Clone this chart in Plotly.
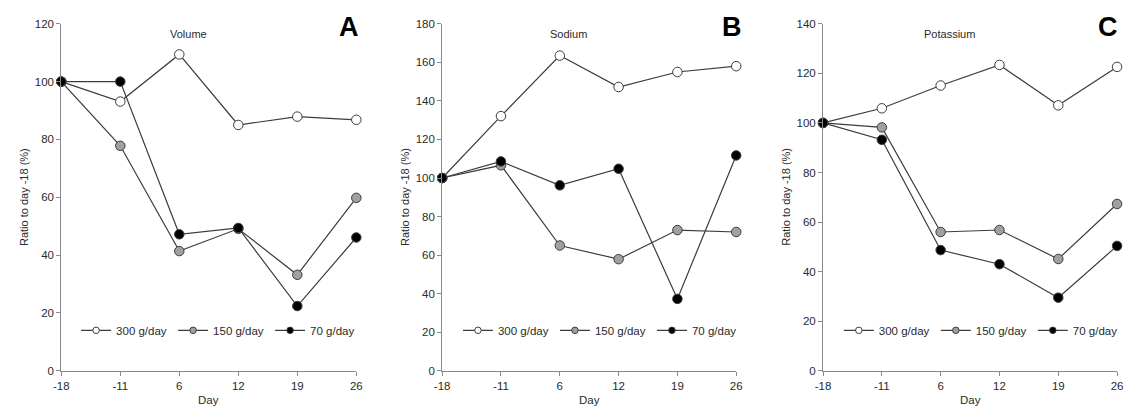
import plotly.graph_objects as go

days = ["-18", "-11", "6", "12", "19", "26"]
series_names = ["300 g/day", "150 g/day", "70 g/day"]

volume_300 = [100, 93.1, 109.4, 85.0, 87.9, 86.8]
volume_150 = [100, 77.8, 41.4, 49.1, 33.2, 59.8]
volume_70 = [100, 100, 47.2, 49.4, 22.4, 46.1]

sodium_300 = [100, 132.1, 163.5, 147.2, 155.0, 158.0]
sodium_150 = [100, 106.6, 65.0, 57.9, 73.0, 72.0]
sodium_70 = [100, 108.6, 96.2, 104.8, 37.3, 111.7]

potassium_300 = [100, 105.9, 115.1, 123.4, 107.1, 122.6]
potassium_150 = [100, 98.2, 56.0, 56.8, 45.1, 67.3]
potassium_70 = [100, 93.2, 48.7, 43.0, 29.5, 50.4]

panel_titles = ["Volume", "Sodium", "Potassium"]
panel_letters = ["A", "B", "C"]
y_max = [120, 180, 140]

panels = [
    [volume_300, volume_150, volume_70],
    [sodium_300, sodium_150, sodium_70],
    [potassium_300, potassium_150, potassium_70],
]

W, H = 1130, 414
fills = ["#ffffff", "#a0a0a0", "#000000"]
line_col = "#3c3c3c"
axis_col = "#8a8a8a"
text_col = "#2a2a2a"
font_fam = "Liberation Sans, Arial, sans-serif"

x_px = [(54, 353), (440, 738), (826, 1124)]
y_top, y_bot = 18.3, 375.7
ydom = [(H - y_bot) / H, (H - y_top) / H]
letter_x = [346, 734, 1115]
legend_x = [74, 461, 847]

fig = go.Figure()
xidx = list(range(len(days)))

for p in range(3):
    sfx = "" if p == 0 else str(p + 1)
    for s in range(3):
        fig.add_trace(go.Scatter(
            x=xidx, y=panels[p][s], mode="lines+markers",
            name=series_names[s],
            line=dict(color=line_col, width=1.2),
            marker=dict(size=9.5, color=fills[s], line=dict(color=line_col, width=1)),
            xaxis="x" + sfx, yaxis="y" + sfx,
            cliponaxis=False,
            showlegend=False,
        ))
    # legend entries (smaller markers, as in the reference)
    for s in range(3):
        fig.add_trace(go.Scatter(
            x=[None], y=[None], mode="lines+markers",
            name=series_names[s],
            line=dict(color=line_col, width=1.2),
            marker=dict(size=6.5, color=fills[s], line=dict(color=line_col, width=1)),
            xaxis="x" + sfx, yaxis="y" + sfx,
            legend="legend" + sfx,
            showlegend=True,
        ))
    x0, x1 = x_px[p]
    fig.layout["xaxis" + sfx] = dict(
        domain=[x0 / W, x1 / W], anchor="y" + sfx, range=[0, 5],
        tickvals=xidx, ticktext=days, showgrid=False, zeroline=False,
        showline=True, linecolor=axis_col, linewidth=1,
        ticks="outside", ticklen=4, tickcolor=axis_col,
        tickfont=dict(family=font_fam, size=11.5, color=text_col),
    )
    fig.layout["yaxis" + sfx] = dict(
        domain=ydom, anchor="x" + sfx, range=[0, y_max[p]], dtick=20,
        showgrid=False, zeroline=False,
        showline=True, linecolor=axis_col, linewidth=1,
        ticks="outside", ticklen=4, tickcolor=axis_col,
        tickfont=dict(family=font_fam, size=11.5, color=text_col),
    )
    fig.layout["legend" + sfx] = dict(
        orientation="h", x=legend_x[p] / W - 5 / W, y=(H - 334) / H,
        xanchor="left", yanchor="middle", bgcolor="rgba(0,0,0,0)",
        font=dict(family=font_fam, size=11.5, color=text_col),
        entrywidth=52, entrywidthmode="pixels", itemwidth=30,
        tracegroupgap=0,
    )
    fig.add_annotation(text=panel_titles[p], x=2.15, y=(H - 21) / H,
                       xref="x" + sfx, yref="paper", showarrow=False,
                       font=dict(family=font_fam, size=11, color=text_col))
    fig.add_annotation(text="<b>" + panel_letters[p] + "</b>", x=letter_x[p] / W,
                       y=(H - 22) / H, xref="paper", yref="paper", showarrow=False,
                       xanchor="center", yanchor="middle",
                       font=dict(family=font_fam, size=27, color="#000000"))
    fig.add_annotation(text="Ratio to day -18 (%)", x=(x0 - 37) / W, y=(H - 197) / H,
                       xref="paper", yref="paper", showarrow=False, textangle=-90,
                       xanchor="center", yanchor="middle",
                       font=dict(family=font_fam, size=11, color=text_col))
    fig.add_annotation(text="Day", x=2.5, y=(H - 406) / H, xref="x" + sfx, yref="paper",
                       showarrow=False, yanchor="middle",
                       font=dict(family=font_fam, size=11.5, color=text_col))

fig.update_layout(
    width=W, height=H, margin=dict(l=0, r=0, t=0, b=0),
    paper_bgcolor="white", plot_bgcolor="white",
)

fig.write_html("out.html")
